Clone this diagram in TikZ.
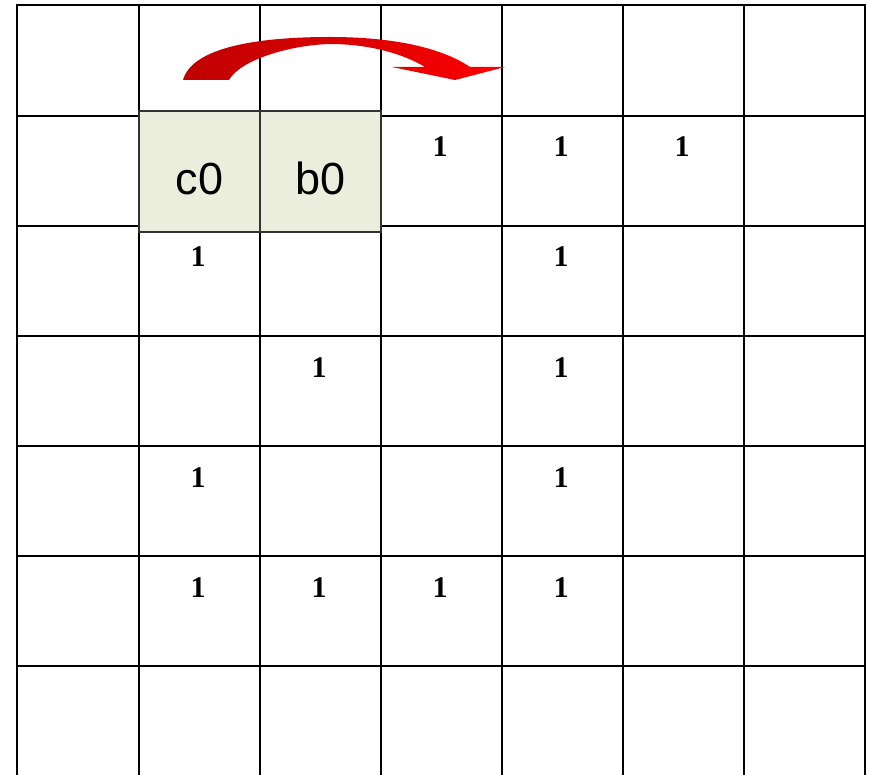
\documentclass[tikz,border=0pt]{standalone}
\usepackage{fontspec}
\setmainfont{Liberation Serif}
\newfontfamily\arialfont{Liberation Sans}
\definecolor{boxfill}{HTML}{EBEEDD}
\definecolor{darkred}{HTML}{C00000}
\begin{document}
\begin{tikzpicture}[x=1pt,y=-1pt,
  gridline/.style={line width=2pt,black},
  one/.style={font=\bfseries\fontsize{30}{34}\selectfont,inner sep=0pt,anchor=base},
  hlbox/.style={draw=black!80,line width=1.2pt,fill=boxfill,minimum width=121pt,minimum height=121pt,inner sep=0pt},
  hltext/.style={font=\arialfont\fontsize{45}{50}\selectfont,inner sep=0pt,anchor=base}]
\useasboundingbox (0,0) rectangle (869,775);
% grid
\foreach \x in {17,139,260,381,502,623,744,865}
  \draw[gridline] (\x,4) -- (\x,776);
\foreach \y in {5,116,226,336,446,556,666}
  \draw[gridline] (16,\y) -- (866,\y);
% highlighted cells
\node[hlbox] (c0box) at (199.5,171.5) {};
\node[hlbox] (b0box) at (320.5,171.5) {};
\node[hltext] (c0) at (199.5,195) {c0};
\node[hltext] (b0) at (320.5,195) {b0};
% ones
\node[one] (r1a) at (440,157) {1};
\node[one] (r1b) at (561,157) {1};
\node[one] (r1c) at (682,157) {1};
\node[one] (r2a) at (198,267) {1};
\node[one] (r2b) at (561,267) {1};
\node[one] (r3a) at (319,377) {1};
\node[one] (r3b) at (561,377) {1};
\node[one] (r4a) at (198,487) {1};
\node[one] (r4b) at (561,487) {1};
\node[one] (r5a) at (198,597) {1};
\node[one] (r5b) at (319,597) {1};
\node[one] (r5c) at (440,597) {1};
\node[one] (r5d) at (561,597) {1};
% curved arrow
\shade[left color=darkred,right color=red,middle color=darkred!60!red]
  (183,80) .. controls (192,48) and (255,37) .. (330,37)
  .. controls (400,37) and (445,50) .. (470,67)
  -- (505,67) -- (455,80) -- (392,67) -- (425,67)
  .. controls (400,52) and (365,44) .. (330,44)
  .. controls (290,45) and (240,60) .. (229,80) -- cycle;
\end{tikzpicture}
\end{document}
